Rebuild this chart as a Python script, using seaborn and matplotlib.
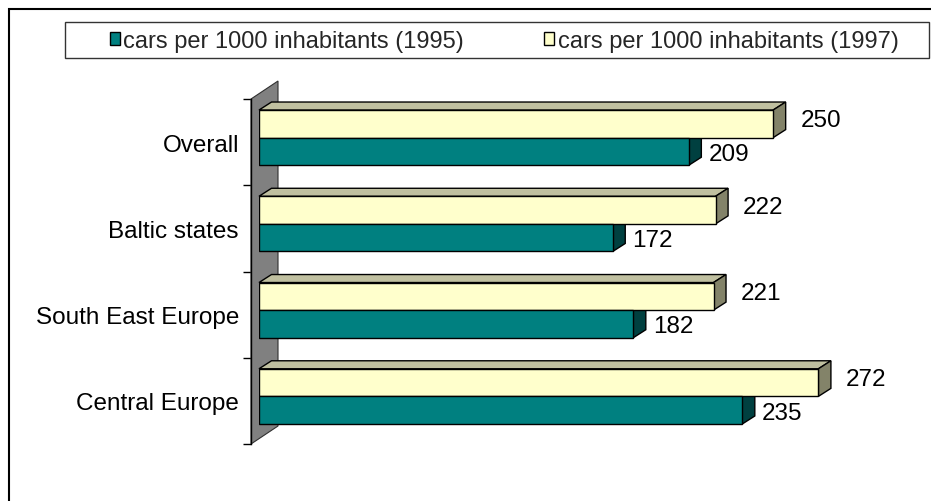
import matplotlib
matplotlib.use("Agg")
import matplotlib.pyplot as plt
from matplotlib.patches import Polygon, Rectangle, Patch
from matplotlib.transforms import IdentityTransform
import pandas as pd
import seaborn as sns

REGIONS = ["Overall", "Baltic states", "South East Europe", "Central Europe"]
CARS_1995 = [209, 172, 182, 235]
CARS_1997 = [250, 222, 221, 272]
YEARS = ["1995", "1997"]
LEGEND_LABELS = ["cars per 1000 inhabitants (1995)", "cars per 1000 inhabitants (1997)"]

FRONT = {"1995": "#008080", "1997": "#FFFFCC"}
TOP = {"1995": "#006666", "1997": "#C0C0A0"}
SIDE = {"1995": "#004040", "1997": "#838369"}
LABEL_GAP = {"1995": (7, 0), "1997": (15, 6)}   # px right / up of the bar's back corner

DEPTH = (12.5, 8.0)        # bar depth in pixels (right, up)
WALL_DEPTH = (27.0, 18.0)  # side wall depth in pixels
LIFT = 4.5                 # bars sit a bit above the band centre
FS = 17.5

sns.set_style("white")
plt.rcParams["font.family"] = ["Liberation Sans", "DejaVu Sans"]

df = pd.DataFrame({
    "region": REGIONS * 2,
    "year": ["1995"] * len(REGIONS) + ["1997"] * len(REGIONS),
    "cars": CARS_1995 + CARS_1997,
})

W, H = 931, 502
fig = plt.figure(figsize=(W / 100, H / 100), dpi=100)
ax = fig.add_axes([259 / W, 1 - 445 / H, 617 / W, 345 / H])

hue_order = ["1997", "1995"]
sns.barplot(data=df, x="cars", y="region", hue="year", hue_order=hue_order,
            order=REGIONS, palette=FRONT, saturation=1, orient="h", width=0.64,
            edgecolor="black", linewidth=1.0, errorbar=None, legend=False,
            ax=ax, zorder=3)
ax.set_xlim(0, 300)
ax.set_ylim(len(REGIONS) - 0.5, -0.5)

# pixels per category unit, to lift the bars
p0 = ax.transData.transform((0, 0))
p1 = ax.transData.transform((0, 1))
ppu = abs(p1[1] - p0[1])

ident = IdentityTransform()
for cont, year in zip(ax.containers, hue_order):
    for p in cont.patches:
        p.set_y(p.get_y() - LIFT / ppu)
        bb = p.get_window_extent()
        x0, x1, y0, y1 = bb.x0, bb.x1, bb.y0, bb.y1
        dx, dy = DEPTH
        top = [(x0, y1), (x1, y1), (x1 + dx, y1 + dy), (x0 + dx, y1 + dy)]
        side = [(x1, y0), (x1, y1), (x1 + dx, y1 + dy), (x1 + dx, y0 + dy)]
        if year == "1997":
            ax.add_patch(Polygon(top, closed=True, facecolor=TOP[year],
                                 edgecolor="black", lw=1.0, transform=ident,
                                 clip_on=False, zorder=2))
        ax.add_patch(Polygon(side, closed=True, facecolor=SIDE[year],
                             edgecolor="black", lw=1.0, transform=ident,
                             clip_on=False, zorder=2))
        gx, gy = LABEL_GAP[year]
        ax.annotate(f"{p.get_width():.0f}",
                    xy=(p.get_x() + p.get_width(), p.get_y() + p.get_height() / 2),
                    xytext=((dx + gx) * 0.72, gy * 0.72), textcoords="offset points",
                    ha="left", va="center_baseline", fontsize=FS, color="black")

# gray side wall behind the bars
wall_off = 8
ab = ax.get_window_extent()
fx = ab.x0 - wall_off
wdx, wdy = WALL_DEPTH
wall = [(fx, ab.y0), (fx, ab.y1), (fx + wdx, ab.y1 + wdy), (fx + wdx, ab.y0 + wdy)]
ax.add_patch(Polygon(wall, closed=True, facecolor="#808080", edgecolor="#303030",
                     lw=0.8, transform=ident, clip_on=False, zorder=1))

# axis: boundary ticks as majors, category names as minors
for s in ["top", "right", "bottom"]:
    ax.spines[s].set_visible(False)
ax.spines["left"].set_position(("outward", wall_off * 0.72))
ax.spines["left"].set_color("black")
ax.spines["left"].set_linewidth(1.0)
ax.spines["left"].set_zorder(4)
ax.xaxis.set_visible(False)
bounds = [i - 0.5 for i in range(len(REGIONS) + 1)]
ax.set_yticks(bounds, [""] * len(bounds))
ax.set_yticks(range(len(REGIONS)), REGIONS, minor=True)
ax.tick_params(axis="y", which="major", left=True, length=8 * 0.72, width=1.0,
               color="black", direction="out")
ax.tick_params(axis="y", which="minor", left=True, length=0, pad=12 * 0.72,
               labelsize=FS, labelcolor="black")
ax.set_xlabel("")
ax.set_ylabel("")
ax.patch.set_alpha(0)

# legend with its own box
handles = [Patch(facecolor=FRONT[y], edgecolor="black", lw=1.0) for y in YEARS]
fig.legend(handles, LEGEND_LABELS, loc="center left", ncol=2, frameon=False,
           bbox_to_anchor=(110 / W, 1 - 42 / H), bbox_transform=fig.transFigure,
           borderaxespad=0, borderpad=0, fontsize=17, handlelength=0.42,
           handleheight=0.42, handletextpad=0.15, columnspacing=3.4)
fig.add_artist(Rectangle((65 / W, 1 - 59 / H), 864 / W, 36 / H, fill=False,
                         edgecolor="#333333", lw=1.0, transform=fig.transFigure))

# outer chart border (cut by the image edge on right and bottom)
fig.add_artist(Rectangle((9 / W, -0.1), 1.2, 1.1 - 10 / H, fill=False,
                         edgecolor="black", lw=1.5, transform=fig.transFigure))

fig.savefig("out.png", dpi=100)
